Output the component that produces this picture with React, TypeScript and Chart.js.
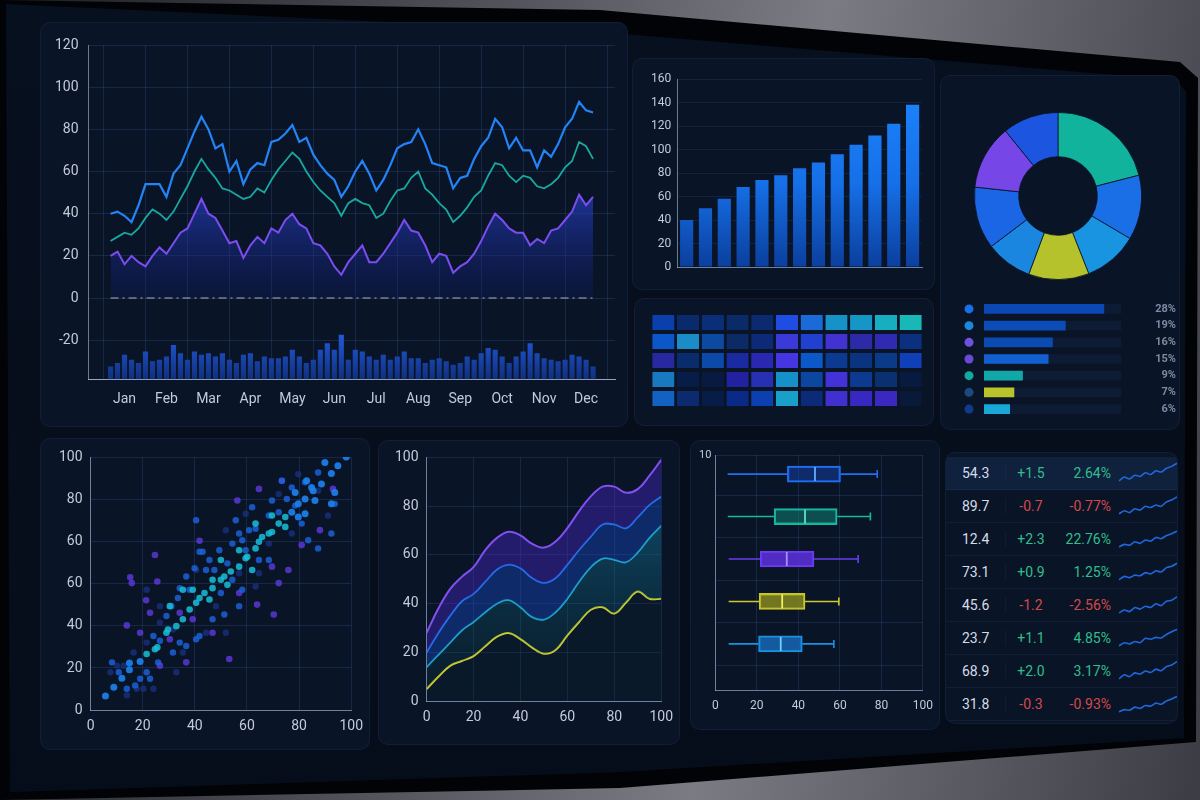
import React, { useEffect, useRef } from 'react';
import { Chart, registerables } from 'chart.js';

Chart.register(...registerables);
Chart.defaults.font.family = "Roboto, 'Noto Sans', 'DejaVu Sans', sans-serif";

// ---------- main line chart ----------
const MONTHS = ['Jan', 'Feb', 'Mar', 'Apr', 'May', 'Jun', 'Jul', 'Aug', 'Sep', 'Oct', 'Nov', 'Dec'];
const MONTH_TICKS = [2, 8, 14, 20, 26, 32, 38, 44, 50, 56, 62, 68];
const MAIN_Y_TICKS = [-20, 0, 20, 40, 60, 80, 100, 120];
const BLUE_SERIES = [
  40, 41, 39, 36, 44, 54, 54, 54, 48, 59,
  63, 71, 79, 86, 80, 71, 73, 60, 65, 54,
  61, 64, 63, 74, 75, 78, 82, 74, 76, 68,
  63, 59, 56, 48, 53, 60, 65, 59, 51, 56,
  63, 71, 73, 74, 80, 73, 64, 63, 62, 52,
  57, 58, 66, 72, 76, 85, 81, 71, 76, 70,
  70, 62, 70, 67, 73, 81, 85, 93, 89, 88,
];
const TEAL_SERIES = [
  27, 29, 31, 30, 33, 38, 42, 40, 37, 41,
  47, 53, 60, 66, 61, 57, 52, 51, 49, 47,
  48, 52, 50, 56, 61, 65, 69, 66, 60, 55,
  51, 48, 45, 39, 45, 47, 45, 44, 38, 40,
  46, 51, 52, 57, 60, 52, 49, 45, 42, 36,
  39, 43, 48, 51, 58, 64, 63, 58, 55, 58,
  57, 53, 52, 54, 57, 62, 65, 74, 72, 66,
];
const PURPLE_SERIES = [
  20, 22, 16, 20, 17, 15, 20, 24, 21, 26,
  31, 33, 40, 47, 40, 38, 32, 26, 27, 19,
  25, 29, 26, 33, 31, 37, 40, 35, 33, 26,
  25, 21, 15, 11, 17, 21, 25, 17, 17, 21,
  26, 31, 37, 32, 31, 25, 17, 21, 20, 12,
  15, 17, 21, 27, 34, 40, 37, 33, 31, 31,
  25, 28, 26, 32, 33, 37, 41, 49, 44, 48,
];
const VOLUME_TOPS = [
  -32.6, -31, -27.1, -29.4, -31, -25.5, -30.2, -29.4, -27.9, -22.4,
  -26.3, -29.4, -25.5, -27.1, -26.3, -27.9, -26.3, -29.4, -31, -27.1,
  -26.3, -30.2, -27.9, -28.7, -28.7, -27.9, -24.7, -27.9, -31, -29.4,
  -24.7, -21.6, -24.7, -17.6, -29.4, -24.7, -25.5, -27.9, -29.4, -27.1,
  -29.4, -27.9, -25.5, -28.7, -28.7, -31, -29.4, -28.7, -30.2, -31.8,
  -31, -27.9, -29.4, -26.3, -23.9, -24.7, -27.9, -31, -27.9, -25.5,
  -21.6, -26.3, -28.7, -29.4, -30.2, -29.4, -27.1, -27.9, -29.4, -32.6,
];
const VOLUME_BASE = -38.5;
const ZERO_LEVEL = 0;

// ---------- bar chart ----------
const BAR_LABELS = ['1', '2', '3', '4', '5', '6', '7', '8', '9', '10', '11', '12', '13'];
const BAR_VALUES = [40, 50, 58, 68, 74, 78, 84, 89, 96, 104, 112, 122, 138];

// ---------- heatmap (rows top to bottom) ----------
const HEAT_COLUMNS = ['1', '2', '3', '4', '5', '6', '7', '8', '9', '10', '11'];
const HEAT_CELL = 1;
const HEAT_COLORS = [
  ['#0b40ac', '#0a2a6c', '#0b2e78', '#0b2a68', '#0c2a70', '#1f4ce2', '#1a6ad8', '#1593c8', '#1596c6', '#17aec0', '#18b8b8'],
  ['#0b56c8', '#1a8cc8', '#0b4aa0', '#0b2a66', '#0c2a78', '#3b3ad8', '#2040d0', '#4232d2', '#2c2aa8', '#2f2ab0', '#0b3080'],
  ['#2828a0', '#0b2c6c', '#0b4aa8', '#1a2aa0', '#2828b0', '#4636e2', '#0b58c8', '#0b3a90', '#0b3480', '#0b3a88', '#1040b8'],
  ['#1878c0', '#081c48', '#081a40', '#2222a0', '#2630b0', '#1590c8', '#0b46a0', '#4232d8', '#0b3a90', '#0b3070', '#081a40'],
  ['#1262c2', '#0b2a70', '#081c48', '#0b2a88', '#0c40b0', '#18a0c8', '#0b2a78', '#4030d0', '#3628c0', '#3a28c0', '#081a38'],
];

// ---------- donut ----------
const DONUT_LABELS = ['A', 'B', 'C', 'D', 'E', 'F', 'G', 'H'];
const DONUT_VALUES = [21, 12.5, 10.5, 11.7, 9, 12, 12.5, 10.8];
const DONUT_COLORS = ['#12b39c', '#1b6fe6', '#1994e0', '#b6c22c', '#1a86e0', '#1b66e4', '#7646e6', '#1c55e0'];

// ---------- legend bars ----------
const LEGEND_PCT = [28, 19, 16, 15, 9, 7, 6];
const LEGEND_TRACK = 32;
const LEGEND_DOTS = ['#1a6ee8', '#1a8ad8', '#7050e0', '#6a48d8', '#13a8a0', '#1a4a80', '#0e3c8c'];
const LEGEND_BARS = ['#0b48b6', '#0b4cb8', '#0b4ab0', '#1260d0', '#13a8a8', '#b8c42a', '#18a8d8'];

// ---------- scatter ----------
const SCATTER_TEAL: [number, number][] = [
  [21.5, 22.2], [24.7, 24.1], [25.6, 24.8], [29.1, 30.6], [29.7, 31.9], [32.9, 33.2], [35.4, 35.9], [38.0, 39.8],
  [40.5, 42.4], [41.8, 44.3], [43.7, 46.3], [46.8, 48.2], [50.0, 51.5], [51.3, 52.8], [53.8, 54.8], [57.0, 56.7],
  [59.5, 60.0], [60.1, 60.6], [63.3, 63.9], [64.6, 66.5], [65.8, 68.4], [68.4, 69.8], [69.6, 70.4], [72.2, 73.7],
  [74.7, 76.3], [62.0, 55.4], [57.0, 63.2], [52.5, 49.5], [46.8, 51.5], [35.4, 47.6], [30.4, 41.1], [39.2, 47.6],
  [45.6, 43.7], [50.0, 59.3], [63.3, 73.7], [69.6, 76.9], [74.7, 72.4],
];
const SCATTER_BRIGHT: [number, number][] = [
  [5.7, 5.6], [8.9, 9.1], [12.0, 12.6], [14.9, 16.0], [14.9, 18.6], [19.0, 19.2], [77.2, 78.2], [79.7, 81.5],
  [82.3, 83.4], [85.4, 86.7], [88.6, 89.3], [92.4, 93.5], [94.9, 96.5], [98.1, 100], [79.7, 76.3], [82.3, 77.6],
  [84.8, 88.0], [89.9, 97.8], [82.9, 90.6], [86.1, 82.8], [92.4, 81.5], [93.7, 86.0], [78.5, 86.0],
];
const SCATTER_BLUE: [number, number][] = [
  [8.2, 18.9], [10.8, 15.0], [13.9, 8.5], [17.1, 9.8], [19.0, 12.4], [21.5, 15.0], [22.8, 12.4], [25.9, 18.9],
  [24.1, 29.3], [26.6, 27.4], [31.6, 22.8], [34.2, 26.7], [36.7, 25.4], [40.5, 28.0], [41.8, 29.3], [29.1, 37.2],
  [31.0, 41.1], [33.5, 44.3], [34.2, 48.2], [38.0, 47.6], [36.7, 52.8], [39.9, 56.1], [43.0, 62.6], [44.3, 55.4],
  [45.6, 59.3], [47.5, 55.4], [49.4, 63.2], [52.5, 58.0], [54.4, 65.8], [57.0, 69.8], [58.2, 67.1], [59.5, 63.2],
  [60.8, 71.1], [63.3, 71.7], [68.4, 76.9], [72.2, 78.2], [75.3, 83.4], [77.2, 88.0], [78.5, 80.8], [82.3, 90.0],
  [87.3, 93.9], [68.4, 59.3], [64.6, 59.3], [58.2, 47.6], [51.3, 37.8], [46.8, 35.9], [40.5, 75.0], [41.8, 62.6],
  [54.4, 51.5], [57.0, 41.1], [50.0, 46.3], [55.7, 75.0], [62.0, 80.2], [69.6, 82.8], [73.4, 90.6], [87.3, 63.9],
  [92.4, 69.8], [93.7, 81.5], [83.5, 67.1], [81.0, 73.7],
];
const SCATTER_PURPLE: [number, number][] = [
  [24.7, 61.3], [25.6, 50.8], [15.2, 52.5], [15.8, 50.2], [13.9, 33.5], [21.3, 43.4], [22.8, 38.5], [19.0, 30.6],
  [53.2, 20.2], [70.3, 37.8], [63.9, 41.7], [57.0, 46.3], [41.8, 66.9], [72.2, 50.2], [75.9, 55.4], [81.0, 65.2],
  [88.0, 71.1], [93.0, 87.4], [73.4, 90.6], [64.6, 87.4], [56.3, 82.8], [46.8, 30.6], [36.7, 18.9], [26.6, 17.6],
  [30.4, 28.0], [34.2, 38.5], [39.2, 35.9], [69.6, 56.7],
];
const SCATTER_DIM: [number, number][] = [
  [7.6, 15.0], [10.1, 17.6], [12.7, 17.6], [17.7, 8.5], [20.3, 8.5], [24.1, 8.5], [13.9, 5.9], [16.5, 22.8],
  [21.5, 26.7], [26.6, 34.6], [31.6, 31.9], [32.9, 15.0], [35.4, 22.8], [44.3, 30.6], [48.1, 41.1], [51.9, 30.6],
  [26.6, 41.1], [21.5, 47.6], [40.5, 55.4], [57.0, 54.1], [64.6, 54.1], [51.9, 71.1], [59.5, 77.6], [68.4, 65.8],
  [77.2, 69.8], [87.3, 86.7], [72.2, 85.4], [79.7, 93.2], [91.1, 76.9], [63.3, 48.9],
];
const SCATTER_Y_LABELS = ['0', '20', '40', '60', '60', '80', '100'];

// ---------- layered area lines ----------
const AREA_X = [0, 5, 10, 15, 20, 25, 30, 35, 40, 45, 50, 55, 60, 65, 70, 75, 80, 85, 90, 95, 100];
const AREA_PURPLE = [28, 38, 46, 51, 55, 62, 67, 69.5, 68, 64.5, 63, 65.5, 71, 78, 84, 88, 88, 85.5, 87, 92.5, 99];
const AREA_BLUE = [20, 28, 35, 41, 44, 49, 54, 56, 54.5, 50.5, 48.5, 50.5, 56, 62, 67.5, 72.5, 72.5, 71, 75.5, 80.5, 84];
const AREA_TEAL = [14, 19, 24, 29, 32.5, 36.5, 40, 41.5, 38.5, 34.5, 33.5, 36.5, 42, 49, 55, 58.5, 58, 57, 61, 67, 72];
const AREA_YELLOW = [5, 10, 14.5, 16.5, 18.5, 22.5, 26.5, 28, 25.5, 22, 19.5, 21, 27, 32.5, 37.5, 38.5, 36, 40.5, 45, 42, 42];
const AREA_Y_LABELS = ['0', '20', '40', '60', '80', '100'];

// ---------- box plot ----------
const BOX_ROWS = [5, 4, 3, 2, 1];
const BOX_MIN = [5.9, 6, 6.4, 6.4, 6.4];
const BOX_Q1 = [34.7, 28.3, 21.6, 21.1, 20.8];
const BOX_MED = [48, 43.2, 34.4, 32.2, 31.5];
const BOX_Q3 = [60.3, 58.7, 47.5, 43.2, 41.9];
const BOX_MAX = [78, 74.7, 68.8, 59.5, 57.1];
const BOX_Y_MIN = -0.1;
const BOX_Y_MAX = 5.45;
const BOX_GRID_TICKS = [0.5, 1.5, 2.5, 3.5, 4.5, 5.45];
const BOX_TOP_LABEL = '10';

// ---------- table ----------
const TABLE_VALUES = ['54.3', '89.7', '12.4', '73.1', '45.6', '23.7', '68.9', '31.8'];
const TABLE_CHANGES = ['+1.5', '-0.7', '+2.3', '+0.9', '-1.2', '+1.1', '+2.0', '-0.3'];
const TABLE_PCTS = ['2.64%', '-0.77%', '22.76%', '1.25%', '-2.56%', '4.85%', '3.17%', '-0.93%'];
const SPARKS = [
  [3, 4.2, 3.6, 4.8, 4.4, 5.6, 5.0, 6.2, 5.8, 7.0, 7.6, 8.6],
  [3, 4.0, 3.4, 4.6, 4.2, 5.4, 5.0, 5.8, 5.4, 6.8, 7.4, 8.4],
  [3, 3.8, 3.5, 4.6, 4.1, 5.2, 4.8, 6.0, 5.6, 6.6, 7.2, 8.0],
  [3, 4.1, 3.7, 4.5, 4.3, 5.3, 4.9, 5.9, 5.5, 6.9, 7.3, 8.3],
  [3, 3.9, 3.4, 4.7, 4.2, 5.1, 4.7, 5.9, 5.3, 6.7, 7.0, 8.1],
  [3, 4.0, 3.6, 4.4, 4.0, 5.4, 5.1, 5.7, 5.5, 6.6, 7.5, 8.2],
  [3, 4.3, 3.7, 4.9, 4.5, 5.5, 5.0, 6.1, 5.6, 6.9, 7.4, 8.5],
  [3, 3.7, 3.5, 4.5, 4.1, 5.0, 4.8, 5.8, 5.4, 6.5, 7.1, 7.9],
];

// ---------- styles ----------
const GRID = 'rgba(56,88,150,0.28)';
const AXIS = 'rgba(160,178,210,0.65)';
const TICK = '#c3cbd8';
const PANEL_BG = '#0a1427';
const BOX_COLORS = ['#1f70f0', '#16b8a0', '#6a3cf0', '#c9c92c', '#1a92e0'];
const BOX_FILLS = ['rgba(22,70,190,0.45)', 'rgba(18,150,130,0.45)', 'rgba(98,50,235,0.8)', 'rgba(160,160,30,0.7)', 'rgba(26,120,210,0.7)'];
const BOX_MEDIANS = ['#5fb0ff', '#5fe0c8', '#a890ff', '#f0f060', '#6fd0ff'];

function grad(chart: any, y0: number, y1: number, stops: [number, string][]) {
  const area = chart.chartArea;
  if (!area) return stops[0][1];
  const g = chart.ctx.createLinearGradient(0, y0, 0, y1);
  stops.forEach(([o, c]) => g.addColorStop(o, c));
  return g;
}

const baseOpts = {
  animation: false as const,
  responsive: false,
  plugins: { legend: { display: false }, tooltip: { enabled: false } },
};

const boxWhiskers = {
  id: 'boxWhiskers',
  afterDatasetsDraw(chart: any) {
    const { ctx, scales } = chart;
    const x = scales.x;
    const y = scales.y;
    BOX_ROWS.forEach((r, i) => {
      const py = y.getPixelForValue(r);
      ctx.save();
      ctx.strokeStyle = BOX_COLORS[i];
      ctx.lineWidth = 1.6;
      ctx.beginPath();
      ctx.moveTo(x.getPixelForValue(BOX_MIN[i]), py);
      ctx.lineTo(x.getPixelForValue(BOX_Q1[i]), py);
      ctx.moveTo(x.getPixelForValue(BOX_Q3[i]), py);
      ctx.lineTo(x.getPixelForValue(BOX_MAX[i]), py);
      const mx = x.getPixelForValue(BOX_MAX[i]);
      ctx.moveTo(mx, py - 4);
      ctx.lineTo(mx, py + 4);
      ctx.stroke();
      ctx.strokeStyle = BOX_MEDIANS[i];
      ctx.lineWidth = 1.8;
      ctx.beginPath();
      const md = x.getPixelForValue(BOX_MED[i]);
      ctx.moveTo(md, py - 7);
      ctx.lineTo(md, py + 7);
      ctx.stroke();
      ctx.restore();
    });
  },
};

const legendDots = {
  id: 'legendDots',
  afterDatasetsDraw(chart: any) {
    const { ctx, chartArea, scales } = chart;
    LEGEND_PCT.forEach((_, i) => {
      const py = scales.y.getPixelForValue(i);
      ctx.save();
      ctx.fillStyle = LEGEND_DOTS[i];
      ctx.beginPath();
      ctx.arc(chartArea.left - 15, py, 4.5, 0, Math.PI * 2);
      ctx.fill();
      ctx.restore();
    });
  },
};

function Panel(props: { x: number; y: number; w: number; h: number; children?: any }) {
  return (
    <div
      style={{
        position: 'absolute',
        left: props.x,
        top: props.y,
        width: props.w,
        height: props.h,
        background: PANEL_BG,
        borderRadius: 10,
        border: '1px solid rgba(60,95,150,0.14)',
        boxSizing: 'border-box',
        overflow: 'hidden',
      }}
    >
      {props.children}
    </div>
  );
}

export default function App() {
  const mainRef = useRef<HTMLCanvasElement>(null);
  const barRef = useRef<HTMLCanvasElement>(null);
  const heatRef = useRef<HTMLCanvasElement>(null);
  const donutRef = useRef<HTMLCanvasElement>(null);
  const legendRef = useRef<HTMLCanvasElement>(null);
  const scatterRef = useRef<HTMLCanvasElement>(null);
  const areaRef = useRef<HTMLCanvasElement>(null);
  const boxRef = useRef<HTMLCanvasElement>(null);
  const sparkRefs = useRef<(HTMLCanvasElement | null)[]>([]);

  useEffect(() => {
    const charts: Chart[] = [];

    // main chart
    charts.push(
      new Chart(mainRef.current!, {
        type: 'line',
        data: {
          datasets: [
            {
              label: 'zero',
              data: [{ x: 0, y: ZERO_LEVEL }, { x: BLUE_SERIES.length - 1, y: ZERO_LEVEL }],
              borderColor: 'rgba(220,225,235,0.75)',
              borderDash: [8, 4, 2, 4],
              borderWidth: 1.2,
              pointRadius: 0,
              order: 0,
            },
            {
              label: 'blue',
              data: BLUE_SERIES.map((y, i) => ({ x: i, y })),
              borderColor: '#2284f6',
              borderWidth: 2.2,
              pointRadius: 0,
              order: 1,
            },
            {
              label: 'teal',
              data: TEAL_SERIES.map((y, i) => ({ x: i, y })),
              borderColor: '#18a89e',
              borderWidth: 1.8,
              pointRadius: 0,
              order: 2,
            },
            {
              label: 'purple',
              data: PURPLE_SERIES.map((y, i) => ({ x: i, y })),
              borderColor: '#7b4df0',
              borderWidth: 2,
              pointRadius: 0,
              fill: 'origin',
              backgroundColor: (c: any) => {
                const ch = c.chart;
                if (!ch.chartArea) return 'rgba(40,60,200,0.4)';
                const y = ch.scales.y;
                return grad(ch, y.getPixelForValue(50), y.getPixelForValue(0), [
                  [0, 'rgba(44,72,220,0.62)'],
                  [1, 'rgba(16,30,120,0.22)'],
                ]);
              },
              order: 3,
            },
            {
              type: 'bar',
              label: 'volume',
              data: VOLUME_TOPS.map((t, i) => ({ x: i, y: [VOLUME_BASE, t] })) as any,
              backgroundColor: (c: any) => {
                const ch = c.chart;
                if (!ch.chartArea) return '#1a47b8';
                const y = ch.scales.y;
                return grad(ch, y.getPixelForValue(-18), y.getPixelForValue(VOLUME_BASE), [
                  [0, '#2158d8'],
                  [1, '#10307e'],
                ]);
              },
              barThickness: 4.5,
              order: 4,
            } as any,
          ],
        },
        options: {
          ...baseOpts,
          layout: { padding: { left: 4, right: 14, top: 22, bottom: 8 } },
          scales: {
            x: {
              type: 'linear',
              min: 0,
              max: BLUE_SERIES.length - 1,
              afterBuildTicks: (s: any) => {
                s.ticks = MONTH_TICKS.map((v) => ({ value: v }));
              },
              ticks: {
                callback: (_v: any, i: number) => MONTHS[i],
                color: TICK,
                font: { size: 14 },
                padding: 12,
                maxRotation: 0,
                autoSkip: false,
              },
              grid: { color: GRID, drawTicks: false },
              border: { color: 'rgba(200,212,232,0.75)' },
            },
            y: {
              min: VOLUME_BASE,
              max: 120,
              afterBuildTicks: (s: any) => {
                s.ticks = MAIN_Y_TICKS.map((v) => ({ value: v }));
              },
              ticks: { color: TICK, font: { size: 14 }, padding: 10 },
              grid: { color: GRID, drawTicks: false },
              border: { color: AXIS },
            },
          },
        } as any,
      })
    );

    // bar chart
    charts.push(
      new Chart(barRef.current!, {
        type: 'bar',
        data: {
          labels: BAR_LABELS,
          datasets: [
            {
              data: BAR_VALUES,
              backgroundColor: (c: any) =>
                grad(c.chart, c.chart.chartArea ? c.chart.chartArea.top : 0, c.chart.chartArea ? c.chart.chartArea.bottom : 1, [
                  [0, '#1c86ff'],
                  [0.55, '#1670e8'],
                  [1, '#0b3f9e'],
                ]),
              barPercentage: 0.7,
              categoryPercentage: 1,
            },
          ],
        },
        options: {
          ...baseOpts,
          layout: { padding: { left: 12, right: 14, top: 20, bottom: 16 } },
          scales: {
            x: { grid: { display: false }, ticks: { display: false }, border: { color: AXIS } },
            y: {
              min: 0,
              max: 160,
              ticks: { stepSize: 20, color: TICK, font: { size: 12 }, padding: 6 },
              grid: { color: 'rgba(56,88,150,0.2)', drawTicks: false },
              border: { color: AXIS },
            },
          },
        } as any,
      })
    );

    // heatmap
    charts.push(
      new Chart(heatRef.current!, {
        type: 'bar',
        data: {
          labels: HEAT_COLUMNS,
          datasets: HEAT_COLORS.slice()
            .reverse()
            .map((row) => ({
              data: HEAT_COLUMNS.map(() => HEAT_CELL),
              backgroundColor: row,
              borderColor: PANEL_BG,
              borderWidth: { top: 2, bottom: 2, left: 0, right: 0 },
              borderSkipped: false,
              barPercentage: 0.9,
              categoryPercentage: 1,
            })),
        },
        options: {
          ...baseOpts,
          layout: { padding: 0 },
          scales: {
            x: { stacked: true, display: false },
            y: { stacked: true, display: false, min: 0, max: HEAT_COLORS.length },
          },
        } as any,
      })
    );

    // donut
    charts.push(
      new Chart(donutRef.current!, {
        type: 'doughnut',
        data: {
          labels: DONUT_LABELS,
          datasets: [{ data: DONUT_VALUES, backgroundColor: DONUT_COLORS, borderWidth: 0.8, borderColor: '#0a1427' }],
        },
        options: { ...baseOpts, cutout: '47%', layout: { padding: 0 } } as any,
      })
    );

    // legend bars
    charts.push(
      new Chart(legendRef.current!, {
        type: 'bar',
        data: {
          labels: LEGEND_PCT.map((p) => p + '%'),
          datasets: [
            {
              data: LEGEND_PCT,
              backgroundColor: LEGEND_BARS,
              barThickness: 9,
              order: 0,
              grouped: false,
            },
            {
              data: LEGEND_PCT.map(() => LEGEND_TRACK),
              backgroundColor: 'rgba(14,30,58,0.7)',
              barThickness: 9,
              order: 1,
              grouped: false,
            },
          ],
        },
        plugins: [legendDots],
        options: {
          ...baseOpts,
          indexAxis: 'y',
          layout: { padding: { left: 33, right: 0, top: 0, bottom: 0 } },
          scales: {
            x: { display: false, min: 0, max: LEGEND_TRACK },
            y: {
              position: 'right',
              grid: { display: false },
              border: { display: false },
              afterFit: (s: any) => {
                s.width = 55;
              },
              ticks: { color: '#7c8aa4', font: { size: 11, weight: 'bold' }, crossAlign: 'far', padding: 0 },
            },
          },
        } as any,
      })
    );

    // scatter
    const sc = (pts: [number, number][]) => pts.map(([x, y]) => ({ x, y }));
    charts.push(
      new Chart(scatterRef.current!, {
        type: 'scatter',
        data: {
          datasets: [
            { data: sc(SCATTER_TEAL), backgroundColor: 'rgba(24,190,215,0.85)', pointRadius: 3.3, borderWidth: 0 },
            { data: sc(SCATTER_BRIGHT), backgroundColor: 'rgba(28,130,240,0.9)', pointRadius: 3.5, borderWidth: 0 },
            { data: sc(SCATTER_BLUE), backgroundColor: 'rgba(26,100,225,0.8)', pointRadius: 3.2, borderWidth: 0 },
            { data: sc(SCATTER_PURPLE), backgroundColor: 'rgba(100,60,235,0.75)', pointRadius: 3.3, borderWidth: 0 },
            { data: sc(SCATTER_DIM), backgroundColor: 'rgba(24,50,130,0.75)', pointRadius: 3.2, borderWidth: 0 },
          ],
        },
        options: {
          ...baseOpts,
          layout: { padding: { left: 10, right: 16, top: 18, bottom: 8 } },
          scales: {
            x: {
              min: 0,
              max: 100,
              ticks: { stepSize: 20, color: TICK, font: { size: 14 }, padding: 8 },
              grid: { color: GRID, drawTicks: false },
              border: { color: AXIS },
            },
            y: {
              min: 0,
              max: 100,
              afterBuildTicks: (s: any) => {
                s.ticks = SCATTER_Y_LABELS.map((_, i) => ({ value: (100 * i) / (SCATTER_Y_LABELS.length - 1) }));
              },
              ticks: { callback: (_v: any, i: number) => SCATTER_Y_LABELS[i], color: TICK, font: { size: 14 }, padding: 8 },
              grid: { color: GRID, drawTicks: false },
              border: { color: AXIS },
            },
          },
        } as any,
      })
    );

    // layered area
    const ap = (arr: number[]) => AREA_X.map((x, i) => ({ x, y: arr[i] }));
    charts.push(
      new Chart(areaRef.current!, {
        type: 'line',
        data: {
          datasets: [
            {
              data: ap(AREA_PURPLE),
              borderColor: '#8250f0',
              borderWidth: 2,
              pointRadius: 0,
              tension: 0.4,
              fill: '+1',
              backgroundColor: 'rgba(70,40,200,0.42)',
            },
            {
              data: ap(AREA_BLUE),
              borderColor: '#1f7cf0',
              borderWidth: 1.8,
              pointRadius: 0,
              tension: 0.4,
              fill: '+1',
              backgroundColor: 'rgba(24,80,210,0.38)',
            },
            {
              data: ap(AREA_TEAL),
              borderColor: '#1cb0c8',
              borderWidth: 1.8,
              pointRadius: 0,
              tension: 0.4,
              fill: '+1',
              backgroundColor: (c: any) =>
                grad(c.chart, c.chart.chartArea ? c.chart.chartArea.top + 60 : 0, c.chart.chartArea ? c.chart.chartArea.bottom : 1, [
                  [0, 'rgba(20,130,170,0.45)'],
                  [1, 'rgba(10,70,70,0.15)'],
                ]),
            },
            {
              data: ap(AREA_YELLOW),
              borderColor: '#d2d02c',
              borderWidth: 2,
              pointRadius: 0,
              tension: 0.4,
              fill: 'origin',
              backgroundColor: 'rgba(10,50,60,0.18)',
            },
          ],
        },
        options: {
          ...baseOpts,
          layout: { padding: { left: 8, right: 14, top: 16, bottom: 12 } },
          scales: {
            x: {
              type: 'linear',
              min: 0,
              max: 100,
              ticks: { stepSize: 20, color: TICK, font: { size: 14 }, padding: 8 },
              grid: { color: GRID, drawTicks: false },
              border: { color: AXIS },
            },
            y: {
              min: 0,
              max: 100,
              ticks: {
                stepSize: 20,
                callback: (_v: any, i: number) => AREA_Y_LABELS[i],
                color: TICK,
                font: { size: 14 },
                padding: 8,
              },
              grid: { color: GRID, drawTicks: false },
              border: { color: AXIS },
            },
          },
        } as any,
      })
    );

    // box plot
    charts.push(
      new Chart(boxRef.current!, {
        type: 'bar',
        data: {
          datasets: [
            {
              data: BOX_ROWS.map((r, i) => ({ x: [BOX_Q1[i], BOX_Q3[i]], y: r })) as any,
              backgroundColor: BOX_FILLS,
              borderColor: BOX_COLORS,
              borderWidth: 1.6,
              borderSkipped: false,
              barThickness: 16,
            },
          ],
        },
        plugins: [boxWhiskers],
        options: {
          ...baseOpts,
          indexAxis: 'y',
          layout: { padding: { left: 4, right: 14, top: 14, bottom: 10 } },
          scales: {
            x: {
              type: 'linear',
              min: 0,
              max: 100,
              ticks: { stepSize: 20, color: TICK, font: { size: 12 }, padding: 8 },
              grid: { color: GRID, drawTicks: false },
              border: { color: AXIS },
            },
            y: {
              type: 'linear',
              offset: false,
              min: BOX_Y_MIN,
              max: BOX_Y_MAX,
              afterBuildTicks: (s: any) => {
                s.ticks = BOX_GRID_TICKS.map((v) => ({ value: v }));
              },
              ticks: {
                callback: (v: any) => (v === BOX_Y_MAX ? BOX_TOP_LABEL : ''),
                color: TICK,
                font: { size: 11 },
                padding: 4,
              },
              grid: { color: GRID, drawTicks: false, offset: false },
              border: { color: AXIS },
            },
          },
        } as any,
      })
    );

    // sparklines
    SPARKS.forEach((s, i) => {
      const el = sparkRefs.current[i];
      if (!el) return;
      charts.push(
        new Chart(el, {
          type: 'line',
          data: {
            labels: s.map((_, j) => String(j)),
            datasets: [{ data: s, borderColor: '#1f68dc', borderWidth: 1.6, pointRadius: 0, tension: 0.2 }],
          },
          options: {
            ...baseOpts,
            layout: { padding: 2 },
            scales: { x: { display: false }, y: { display: false, min: 2, max: 9 } },
          } as any,
        })
      );
    });

    return () => charts.forEach((c) => c.destroy());
  }, []);

  const green = '#2fbf8c';
  const red = '#d24a4a';

  return (
    <div
      style={{
        position: 'fixed',
        left: 0,
        top: 0,
        width: 1200,
        height: 800,
        overflow: 'hidden',
        background: 'linear-gradient(100deg, #1e1f24 0%, #55565e 40%, #7a7b83 62%, #3c3d44 100%)',
        fontFamily: "Roboto, 'Noto Sans', sans-serif",
      }}
    >
      <div
        style={{
          position: 'absolute',
          inset: 0,
          background: '#020306',
          clipPath: 'polygon(0 0, 600px 10px, 1180px 62px, 1198px 78px, 1196px 742px, 620px 788px, 0 800px)',
        }}
      />
      <div
        style={{
          position: 'absolute',
          inset: 0,
          background: 'linear-gradient(180deg, #07101f 0%, #060d1a 100%)',
          clipPath: 'polygon(6px 4px, 600px 32px, 1176px 80px, 1186px 92px, 1184px 738px, 620px 772px, 10px 792px)',
        }}
      />

      <Panel x={40} y={22} w={588} h={405}>
        <canvas ref={mainRef} width={588} height={405} style={{ position: 'absolute', left: 0, top: 0 }} />
      </Panel>

      <Panel x={632} y={58} w={303} h={232}>
        <canvas ref={barRef} width={303} height={232} style={{ position: 'absolute', left: 0, top: 0 }} />
      </Panel>

      <Panel x={634} y={298} w={300} h={128}>
        <canvas ref={heatRef} width={272} height={95} style={{ position: 'absolute', left: 16, top: 14 }} />
      </Panel>

      <Panel x={940} y={75} w={240} h={355}>
        <canvas ref={donutRef} width={168} height={168} style={{ position: 'absolute', left: 33, top: 36 }} />
        <canvas ref={legendRef} width={225} height={130} style={{ position: 'absolute', left: 10, top: 218 }} />
      </Panel>

      <Panel x={40} y={438} w={330} h={312}>
        <canvas ref={scatterRef} width={330} height={312} style={{ position: 'absolute', left: 0, top: 0 }} />
      </Panel>

      <Panel x={378} y={440} w={302} h={305}>
        <canvas ref={areaRef} width={302} height={305} style={{ position: 'absolute', left: 0, top: 0 }} />
      </Panel>

      <Panel x={690} y={440} w={250} h={290}>
        <canvas ref={boxRef} width={250} height={290} style={{ position: 'absolute', left: 0, top: 0 }} />
      </Panel>

      <Panel x={945} y={452} w={233} h={272}>
        <div style={{ position: 'absolute', left: 0, top: 4, width: 233 }}>
          {TABLE_VALUES.map((v, i) => {
            const up = TABLE_CHANGES[i].startsWith('+');
            return (
              <div
                key={i}
                style={{
                  display: 'flex',
                  alignItems: 'center',
                  height: 32,
                  fontSize: 14,
                  background: i === 0 ? 'rgba(24,48,92,0.45)' : 'transparent',
                  borderBottom: '1px solid rgba(50,80,130,0.18)',
                }}
              >
                <div style={{ width: 60, textAlign: 'center', color: '#d5dce8' }}>{v}</div>
                <div style={{ width: 50, textAlign: 'center', color: up ? green : red, borderLeft: '1px solid rgba(50,80,130,0.15)' }}>
                  {TABLE_CHANGES[i]}
                </div>
                <div style={{ width: 56, textAlign: 'right', color: up ? green : red, paddingRight: 4 }}>{TABLE_PCTS[i]}</div>
                <canvas
                  ref={(el) => {
                    sparkRefs.current[i] = el;
                  }}
                  width={62}
                  height={26}
                  style={{ marginLeft: 2 }}
                />
              </div>
            );
          })}
        </div>
      </Panel>
    </div>
  );
}
